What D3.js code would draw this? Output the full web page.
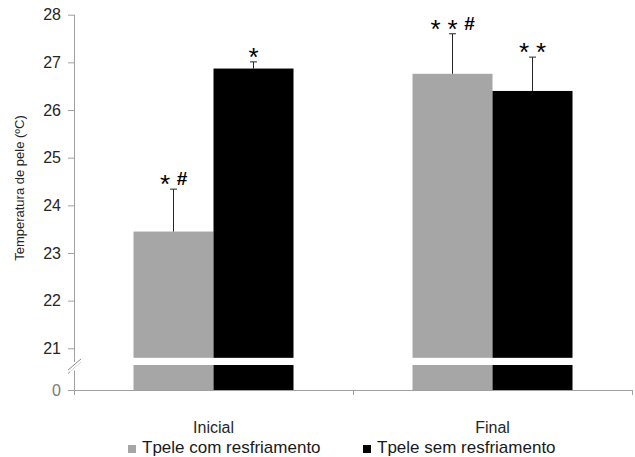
<!DOCTYPE html>
<html>
<head>
<meta charset="utf-8">
<script src="https://cdn.jsdelivr.net/npm/d3@7"></script>
<style>
  body { margin: 0; background: #fff; }
  svg { font-family: "Liberation Sans", Arial, sans-serif; }
</style>
</head>
<body>
<div id="chart"></div>
<script>
//Datos
const categorias = ['Inicial', 'Final'];
const series = ['Tpele com resfriamento', 'Tpele sem resfriamento'];
const valoresCom = [23.45, 26.76];
const valoresSem = [26.87, 26.40];
const erroCom = [0.89, 0.84];
const erroSem = [0.14, 0.71];
const marcasCom = ['* #', '* * #'];
const marcasSem = ['*', '* *'];
const ticksY = [21, 22, 23, 24, 25, 26, 27, 28];

//Colores
const COLOR_COM = '#A6A6A6',
    COLOR_SEM = '#000000',
    COLOR_AXIS = '#A0A0A0';

let width = 635, height = 457;
let left = 74, right = 632;

let svg = d3.select('#chart')
    .append('svg')
    .attr('width', width)
    .attr('height', height);

//Escalas
let x0 = d3.scaleBand()
    .domain(categorias)
    .range([left, right]);

let x1 = d3.scaleBand()
    .domain(series)
    .range([0, 160]);

let y = d3.scaleLinear()
    .domain([21, 28])
    .range([348.3, 14.7]);

//tramo bajo del eje cortado (0 .. corte)
let yLow = d3.scaleLinear()
    .domain([0, 1])
    .range([390, 365]);

let color = d3.scaleOrdinal()
    .domain(series)
    .range([COLOR_COM, COLOR_SEM]);

let corte = 20.8;

let datos = [];
categorias.forEach(function(c, i) {
    datos.push({cat: c, serie: series[0], v: valoresCom[i], e: erroCom[i], m: marcasCom[i]});
    datos.push({cat: c, serie: series[1], v: valoresSem[i], e: erroSem[i], m: marcasSem[i]});
});

function barX(d) {
    return x0(d.cat) + (x0.bandwidth() - 160) / 2 + x1(d.serie);
}

//Barras (parte alta)
svg.append('g')
    .selectAll('rect')
    .data(datos)
    .enter()
    .append('rect')
    .attr('x', barX)
    .attr('width', x1.bandwidth())
    .attr('y', function(d) { return y(d.v); })
    .attr('height', function(d) { return y(corte) - y(d.v); })
    .attr('fill', function(d) { return color(d.serie); });

//Barras (parte baja)
svg.append('g')
    .selectAll('rect')
    .data(datos)
    .enter()
    .append('rect')
    .attr('x', barX)
    .attr('width', x1.bandwidth())
    .attr('y', yLow(1))
    .attr('height', yLow(0) - yLow(1))
    .attr('fill', function(d) { return color(d.serie); });

//Barras de error
let err = svg.append('g')
    .attr('stroke', '#262626')
    .attr('stroke-width', 1);

err.selectAll('.vl')
    .data(datos)
    .enter()
    .append('line')
    .attr('x1', function(d) { return barX(d) + x1.bandwidth() / 2; })
    .attr('x2', function(d) { return barX(d) + x1.bandwidth() / 2; })
    .attr('y1', function(d) { return y(d.v); })
    .attr('y2', function(d) { return y(d.v + d.e); });

err.selectAll('.cap')
    .data(datos)
    .enter()
    .append('line')
    .attr('x1', function(d) { return barX(d) + x1.bandwidth() / 2 - 3.5; })
    .attr('x2', function(d) { return barX(d) + x1.bandwidth() / 2 + 3.5; })
    .attr('y1', function(d) { return y(d.v + d.e); })
    .attr('y2', function(d) { return y(d.v + d.e); });

//Marcas de significancia
datos.forEach(function(d) {
    let simbolos = d.m.split(' ');
    let cx = barX(d) + x1.bandwidth() / 2;
    let cy = y(d.v + d.e) - 11;
    simbolos.forEach(function(s, j) {
        let px = cx + (j - (simbolos.length - 1) / 2) * 17;
        if (s === '*') {
            svg.append('text')
                .attr('x', px)
                .attr('y', cy + 15)
                .attr('text-anchor', 'middle')
                .style('font-size', '26px')
                .attr('fill', '#000')
                .text('*');
        } else {
            svg.append('text')
                .attr('x', px)
                .attr('y', cy + 7)
                .attr('text-anchor', 'middle')
                .style('font-size', '19px')
                .style('font-weight', 'bold')
                .attr('fill', '#000')
                .text(s);
        }
    });
});

//Eje Y
let yAxis = svg.append('g')
    .attr('transform', 'translate(' + left + ',0)')
    .call(d3.axisLeft(y).tickValues(ticksY).tickFormat(d3.format('d'))
        .tickSize(6).tickSizeOuter(0).tickPadding(7));

let yAxis0 = svg.append('g')
    .attr('transform', 'translate(' + left + ',0)')
    .call(d3.axisLeft(yLow).tickValues([0]).tickFormat(d3.format('d'))
        .tickSize(6).tickSizeOuter(0).tickPadding(7));

[yAxis, yAxis0].forEach(function(a) {
    a.select('.domain').remove();
    a.selectAll('line').attr('stroke', COLOR_AXIS);
    a.selectAll('text')
        .style('font-size', '16px')
        .style('font-family', '"Liberation Sans", Arial, sans-serif')
        .attr('fill', '#262626');
});
yAxis0.selectAll('text').attr('fill', '#7a7a7a');

//linea del eje con corte
svg.append('line')
    .attr('x1', left + 0.5).attr('x2', left + 0.5)
    .attr('y1', y(28)).attr('y2', 362)
    .attr('stroke', COLOR_AXIS);
svg.append('line')
    .attr('x1', left + 0.5).attr('x2', left + 0.5)
    .attr('y1', 368).attr('y2', yLow(0) + 5)
    .attr('stroke', COLOR_AXIS);

//simbolo de corte //
[0, 3.5].forEach(function(o) {
    svg.append('line')
        .attr('x1', 68).attr('y1', 370 + o)
        .attr('x2', 81).attr('y2', 359 + o)
        .attr('stroke', '#8a8a8a')
        .attr('stroke-width', 1);
});
svg.append('polygon')
    .attr('points', '70,371.5 81,362.2 81,365 70,374.3')
    .attr('fill', '#fff');

//Eje X
svg.append('line')
    .attr('x1', left).attr('x2', right)
    .attr('y1', yLow(0) + 0.5).attr('y2', yLow(0) + 0.5)
    .attr('stroke', COLOR_AXIS);

let limites = categorias.map(function(c) { return x0(c); }).concat([right]);
svg.append('g')
    .selectAll('line')
    .data(limites)
    .enter()
    .append('line')
    .attr('x1', function(d) { return Math.round(d) + 0.5; })
    .attr('x2', function(d) { return Math.round(d) + 0.5; })
    .attr('y1', yLow(0))
    .attr('y2', yLow(0) + 5)
    .attr('stroke', COLOR_AXIS);

svg.append('g')
    .selectAll('text')
    .data(categorias)
    .enter()
    .append('text')
    .attr('x', function(d) { return x0(d) + x0.bandwidth() / 2; })
    .attr('y', 433)
    .attr('text-anchor', 'middle')
    .style('font-size', '16px')
    .attr('fill', '#262626')
    .text(function(d) { return d; });

//Titulo eje Y
svg.append('text')
    .attr('transform', 'translate(24,188) rotate(-90)')
    .attr('text-anchor', 'middle')
    .style('font-size', '13px')
    .attr('fill', '#262626')
    .text('Temperatura de pele (ºC)');

//Leyenda
let legendX = [128, 363];
let leyenda = svg.append('g')
    .selectAll('g')
    .data(series)
    .enter()
    .append('g')
    .attr('transform', function(d, i) { return 'translate(' + legendX[i] + ',445)'; });

leyenda.append('rect')
    .attr('width', 8)
    .attr('height', 8)
    .attr('fill', function(d) { return color(d); });

leyenda.append('text')
    .attr('x', 14)
    .attr('y', 8)
    .style('font-size', '17px')
    .attr('fill', '#1a1a1a')
    .text(function(d) { return d; });
</script>
</body>
</html>
